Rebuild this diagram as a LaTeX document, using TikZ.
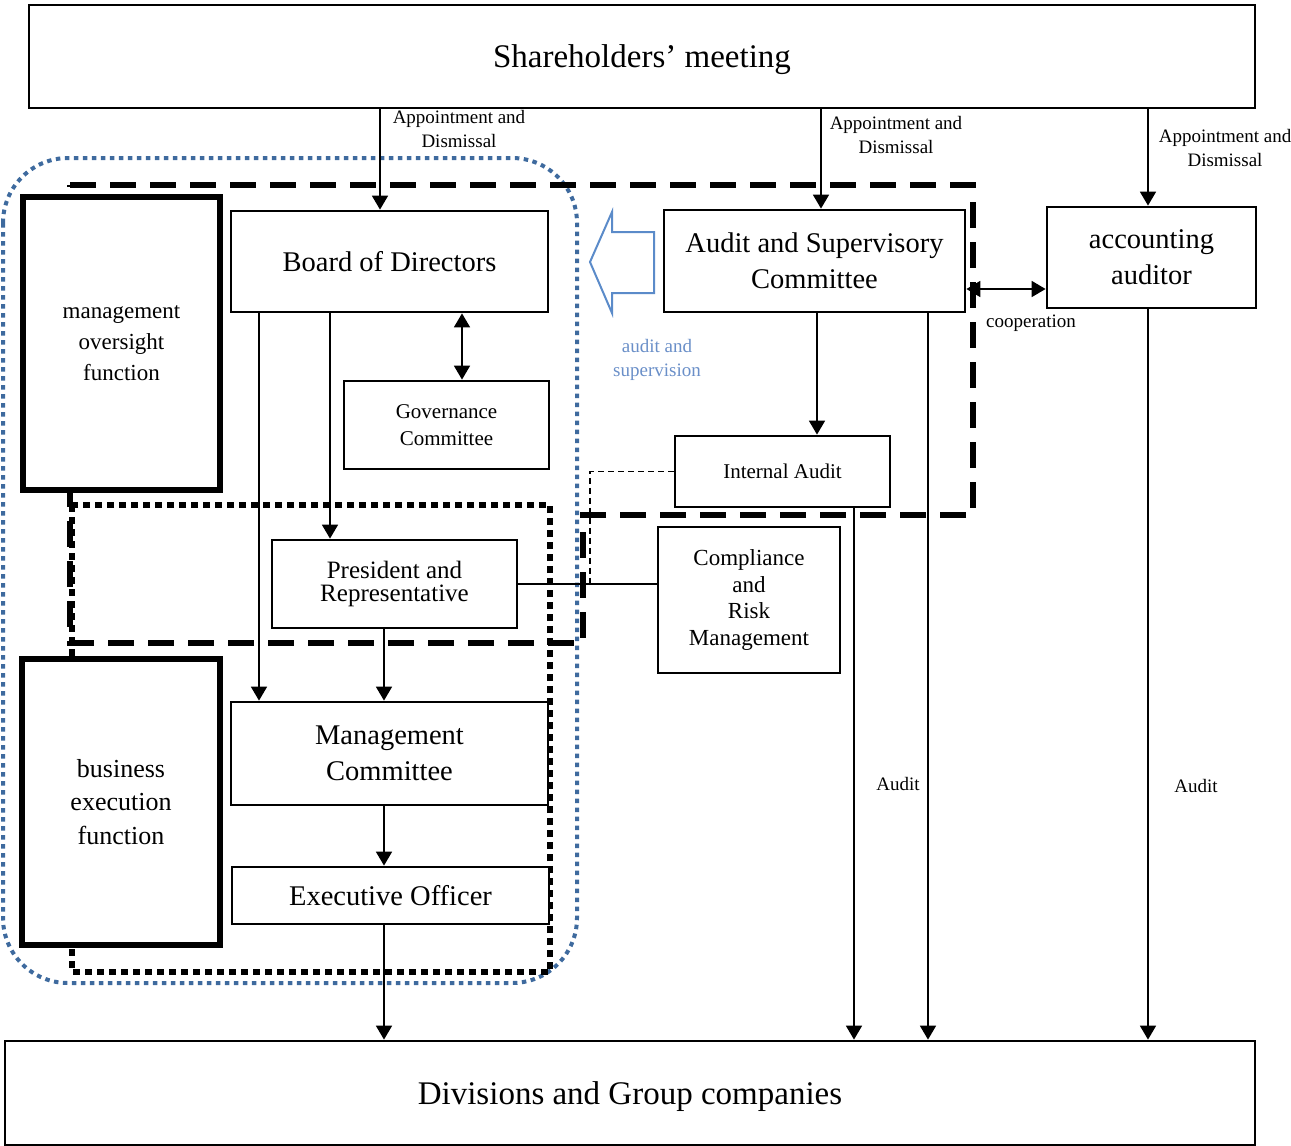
\documentclass[tikz,border=0pt]{standalone}
\usepackage{fontspec}
\setmainfont{Liberation Serif}
\usetikzlibrary{arrows.meta}
\definecolor{dotblue}{HTML}{3E6A9E}
\definecolor{arrblue}{HTML}{5B8BC9}
\definecolor{lblblue}{HTML}{6A8FC8}
\begin{document}
\begin{tikzpicture}[x=1pt,y=-1pt,
  box/.style={draw, line width=2.8pt, fill=white, inner sep=0pt, align=center, text=black},
  thickbox/.style={box, line width=6.5pt},
  conn/.style={line width=1.8pt},
  arr/.style={conn, -{Triangle[length=14pt,width=16pt]}},
  darr/.style={conn, {Triangle[length=14pt,width=16pt]}-{Triangle[length=14pt,width=16pt]}},
  bigdash/.style={line width=6pt, dash pattern=on 26pt off 14pt},
  blkdot/.style={line width=6.5pt, dash pattern=on 7pt off 5pt},
  bluedot/.style={draw=dotblue, line width=4pt, dash pattern=on 4.5pt off 4.5pt, rounded corners=65pt},
  thindash/.style={line width=1.3pt, dash pattern=on 6pt off 4pt},
  lbl/.style={font=\fontsize{19}{24}\selectfont, align=center, inner sep=0pt},
  big/.style={font=\fontsize{33}{38}\selectfont},
  mid/.style={font=\fontsize{28.5}{36}\selectfont},
]
\useasboundingbox (0,0) rectangle (1291,1146);

% background frames
\draw[bluedot] (3,158) rectangle (577,983);
\draw[bigdash] (70,185) -- (973,185) -- (973,515) -- (583,515) -- (583,643) -- (70,643) -- cycle;
\draw[blkdot] (72,505) rectangle (550,972);

% boxes
\node[box, big, text depth=0pt, minimum width=1226pt, minimum height=103pt] (SH) at (642,56.5) {Shareholders’ meeting};
\node[box, big, text depth=0pt, minimum width=1250pt, minimum height=104pt] (DIV) at (630,1093) {Divisions and Group companies};

\node[thickbox, minimum width=197pt, minimum height=293pt, font=\fontsize{23}{31}\selectfont] (MO) at (121.5,343.5) {management\\oversight\\function};
\node[thickbox, minimum width=198pt, minimum height=286pt, font=\fontsize{26}{33.5}\selectfont] (BE) at (121,802) {business\\execution\\function};

\node[box, mid, text depth=0pt, minimum width=317pt, minimum height=101pt] (BOD) at (389.5,261.5) {Board of Directors};
\node[box, minimum width=205pt, minimum height=88pt, font=\fontsize{21}{27}\selectfont] (GOV) at (446.5,425) {Governance\\Committee};
\node[box, minimum width=245pt, minimum height=88pt, font=\fontsize{25}{23}\selectfont] (PRES) at (394.5,584) {President and\\Representative};
\node[box, mid, minimum width=317pt, minimum height=103pt] (MC) at (389.5,753.5) {Management\\Committee};
\node[box, mid, minimum width=317pt, minimum height=57pt] (EO) at (390.5,895.5) {Executive Officer};

\node[box, mid, minimum width=301pt, minimum height=102pt] (ASC) at (814.5,261) {Audit and Supervisory\\Committee};
\node[box, mid, minimum width=209pt, minimum height=101pt] (AA) at (1151.5,257.5) {accounting\\auditor};
\node[box, minimum width=215pt, minimum height=71pt, font=\fontsize{21}{26}\selectfont] (IA) at (782.5,471.5) {Internal Audit};
\node[box, minimum width=182pt, minimum height=146pt, font=\fontsize{23}{26.7}\selectfont] (CRM) at (749,600) {Compliance\\and\\Risk\\Management};

% blue hollow arrow
\draw[arrblue, line width=2pt, line join=miter] (654,232) -- (612,232) -- (612,212) -- (590,262) -- (612,313) -- (612,293) -- (654,293) -- cycle;
\node[lbl, text=lblblue] (LAS) at (657,359.5) {audit and\\supervision};

% x positions
\coordinate (x380) at (380,0);
\coordinate (x821) at (821,0);
\coordinate (x1148) at (1148,0);
\coordinate (x462) at (462,0);
\coordinate (x330) at (330,0);
\coordinate (x259) at (259,0);
\coordinate (x384) at (384,0);
\coordinate (x817) at (817,0);
\coordinate (x854) at (854,0);
\coordinate (x928) at (928,0);
\coordinate (y289) at (0,289);

% connectors
\draw[arr] (SH.south -| x380) -- (BOD.north -| x380);
\draw[arr] (SH.south -| x821) -- (ASC.north -| x821);
\draw[arr] (SH.south -| x1148) -- (AA.north -| x1148);
\draw[darr] (BOD.south -| x462) -- (GOV.north -| x462);
\draw[arr] (BOD.south -| x330) -- (PRES.north -| x330);
\draw[arr] (BOD.south -| x259) -- (MC.north -| x259);
\draw[arr] (PRES.south -| x384) -- (MC.north -| x384);
\draw[arr] (MC.south -| x384) -- (EO.north -| x384);
\draw[arr] (EO.south -| x384) -- (DIV.north -| x384);
\draw[arr] (ASC.south -| x817) -- (IA.north -| x817);
\draw[darr] (ASC.east |- y289) -- (AA.west |- y289);
\draw[arr] (IA.south -| x854) -- (DIV.north -| x854);
\draw[arr] (ASC.south -| x928) -- (DIV.north -| x928);
\draw[arr] (AA.south -| x1148) -- (DIV.north -| x1148);
\draw[conn] (PRES.east) -- (PRES.east -| CRM.west);
\coordinate (dk) at (590,471.5);
\coordinate (dj) at (590,584);
\draw[thindash] (IA.west) -- (dk) -- (dj);

% labels
\node[lbl] (L1) at (459,129) {Appointment and\\Dismissal};
\node[lbl] (L2) at (896,134.5) {Appointment and\\Dismissal};
\node[lbl] (L3) at (1225,147.5) {Appointment and\\Dismissal};
\node[lbl] (LC) at (1031,323) {cooperation};
\node[lbl] (LA1) at (898,784) {Audit};
\node[lbl] (LA2) at (1196,786) {Audit};
\end{tikzpicture}
\end{document}
